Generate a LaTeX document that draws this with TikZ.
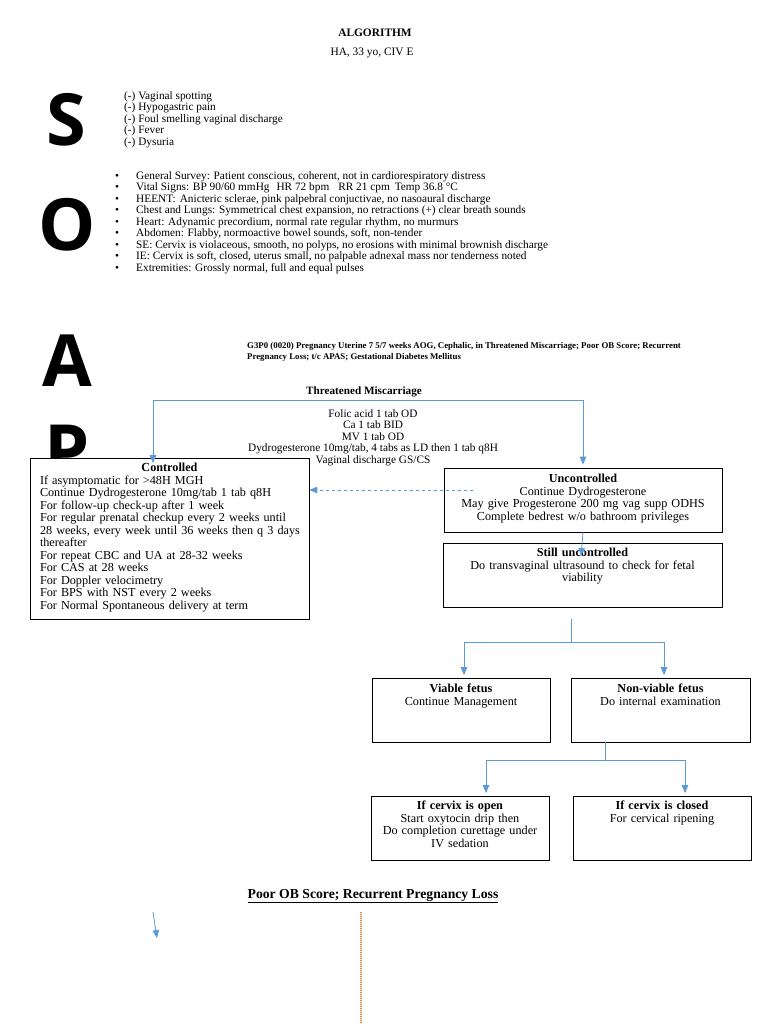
\documentclass[tikz,border=0pt]{standalone}
\usepackage{fontspec}
\setmainfont{Liberation Serif}
\newfontfamily\soapfont{Open Sans}
\usetikzlibrary{arrows,positioning}
\definecolor{arrowblue}{HTML}{5B9BD5}
\definecolor{dotorange}{HTML}{ED7D31}

\begin{document}
\begin{tikzpicture}[x=1pt,y=-1pt,font=\fontsize{11.3}{11.5}\selectfont,
  box/.style={shape=rectangle,draw,fill=white,line width=0.8pt,inner sep=0pt},
  boxtext/.style={anchor=north,text width=#1,text centered,inner sep=0pt,font=\fontsize{12.2}{12.5}\selectfont},
  flow/.style={->,>=triangle 45,draw=arrowblue,line width=0.8pt},
  letter/.style={anchor=base,inner sep=0pt,font=\soapfont\bfseries\fontsize{72}{72}\selectfont}]
\path[use as bounding box,fill=white] (0,0) rectangle (768,1024);
% heading
\node(title)[font=\fontsize{11.4}{12}\selectfont\bfseries] at (375,33){ALGORITHM};
\node(patient)[font=\fontsize{11.4}{12}\selectfont] at (372,53){HA, 33 yo, CIV E};
% SOAP letters
\node(sl)[letter] at (66,146){S};
\node(ol)[letter] at (67,251){O};
\node(al)[letter] at (67,386){A};
\node(pl)[letter] at (67,476){P};
% subjective
\node(subj)[anchor=north west,align=left,inner sep=0pt] at (124,91){(-) Vaginal spotting\\(-) Hypogastric pain\\(-) Foul smelling vaginal discharge\\(-) Fever\\(-) Dysuria};
% objective
\node(obj)[anchor=north west,align=left,inner sep=0pt] at (115,171){%
\makebox[21pt][l]{\textbullet}General Survey: Patient conscious, coherent, not in cardiorespiratory distress\\
\makebox[21pt][l]{\textbullet}Vital Signs: BP 90/60 mmHg\hspace{7pt}HR 72 bpm\hspace{9pt}RR 21 cpm\hspace{5pt}Temp 36.8 °C\\
\makebox[21pt][l]{\textbullet}HEENT:\hspace{4pt}Anicteric sclerae, pink palpebral conjuctivae, no nasoaural discharge\\
\makebox[21pt][l]{\textbullet}Chest and Lungs: Symmetrical chest expansion, no retractions (+) clear breath sounds\\
\makebox[21pt][l]{\textbullet}Heart: Adynamic precordium, normal rate regular rhythm, no murmurs\\
\makebox[21pt][l]{\textbullet}Abdomen: Flabby, normoactive bowel sounds, soft, non-tender\\
\makebox[21pt][l]{\textbullet}SE: Cervix is violaceous, smooth, no polyps, no erosions with minimal brownish discharge\\
\makebox[21pt][l]{\textbullet}IE: Cervix is soft, closed, uterus small, no palpable adnexal mass nor tenderness noted\\
\makebox[21pt][l]{\textbullet}Extremities: Grossly normal, full and equal pulses};
% assessment
\node(assess)[anchor=north west,align=left,inner sep=0pt,font=\fontsize{8.8}{11.5}\selectfont\bfseries] at (247,342){G3P0 (0020) Pregnancy Uterine 7 5/7 weeks AOG, Cephalic, in Threatened Miscarriage; Poor OB Score; Recurrent\\Pregnancy Loss; t/c APAS; Gestational Diabetes Mellitus};
% plan
\node(tm)[font=\fontsize{11.2}{12}\selectfont\bfseries] at (364,392){Threatened Miscarriage};
\node(meds)[anchor=north,align=center,inner sep=0pt] at (373,409){Folic acid 1 tab OD\\Ca 1 tab BID\\MV 1 tab OD\\Dydrogesterone 10mg/tab, 4 tabs as LD then 1 tab q8H\\Vaginal discharge GS/CS};
\node(ctl)[box,minimum width=279pt,minimum height=161pt] at (169.5,538.5){};
\node(ctltxt)[anchor=north,text width=259pt,inner sep=0pt,font=\fontsize{12.2}{12.5}\selectfont] at (169.5,463){{\centering\textbf{Controlled}\par}\noindent
If asymptomatic for >48H MGH\\
Continue Dydrogesterone 10mg/tab 1 tab q8H\\
For follow-up check-up after 1 week\\
\makebox[259pt][s]{For regular prenatal checkup every 2 weeks until}\\
\makebox[259pt][s]{28 weeks, every week until 36 weeks then q 3 days}\\
thereafter\\
For repeat CBC and UA at 28-32 weeks\\
For CAS at 28 weeks\\
For Doppler velocimetry\\
For BPS with NST every 2 weeks\\
For Normal Spontaneous delivery at term};
\node(unc)[box,minimum width=278pt,minimum height=64pt] at (583,500){};
\node(unctxt)[boxtext=270pt] at (583,474){\textbf{Uncontrolled}\\Continue Dydrogesterone\\May give Progesterone 200 mg vag supp ODHS\\Complete bedrest w/o bathroom privileges};
\node(still)[box,minimum width=279pt,minimum height=64pt] at (582.5,575){};
\node(stilltxt)[boxtext=264pt] at (582.5,548){\textbf{Still uncontrolled}\\Do transvaginal ultrasound to check for fetal\\viability};
\node(via)[box,minimum width=178pt,minimum height=64pt] at (461,710){};
\node(viatxt)[boxtext=170pt] at (461,684){\textbf{Viable fetus}\\Continue Management};
\node(non)[box,minimum width=179pt,minimum height=64pt] at (660.5,710){};
\node(nontxt)[boxtext=170pt] at (660.5,684){\textbf{Non-viable fetus}\\Do internal examination};
\node(open)[box,minimum width=178pt,minimum height=64pt] at (460,828){};
\node(opentxt)[boxtext=170pt] at (460,801){\textbf{If cervix is open}\\Start oxytocin drip then\\Do completion curettage under\\IV sedation};
\node(closed)[box,minimum width=178pt,minimum height=64pt] at (662,828){};
\node(closedtxt)[boxtext=170pt] at (662,801){\textbf{If cervix is closed}\\For cervical ripening};
% connectors
\coordinate(split) at (368,400);
\coordinate(ctlin) at (153,463);
\draw[flow] (split) -| (ctlin);
\draw[flow] (split) -| ([yshift=3pt]unc.north);
\coordinate(dashstart) at (473,490);
\draw[flow,dashed] (dashstart) -- (ctl.east |- dashstart);
\coordinate(stillin) at (581,556);
\draw[flow] (unc.south) -- (stillin);
\coordinate(fork) at (571,619);
\coordinate(forkbar) at (571,642);
\coordinate(viain) at (464,675);
\coordinate(nonin) at (664,675);
\draw[flow] (fork) -- (forkbar) -| (viain);
\draw[flow] (forkbar) -| (nonin);
\coordinate(cervbar) at (605,760);
\coordinate(openin) at (486,793);
\coordinate(closedin) at (685,793);
\draw[flow] (non.south -| cervbar) -- (cervbar) -| (openin);
\draw[flow] (cervbar) -| (closedin);
% poor OB score
\node(pob)[font=\fontsize{13.7}{15}\selectfont\bfseries] at (373,896){\underline{Poor OB Score; Recurrent Pregnancy Loss}};
\coordinate(stray) at (153,912);
\coordinate(strayend) at (157,938);
\draw[flow] (stray) -- (strayend);
\coordinate(dottop) at (361,912);
\coordinate(dotbot) at (361,1024);
\draw[dotorange,dash pattern=on 1pt off 1pt,line width=1.2pt] (dottop) -- (dotbot);
\end{tikzpicture}
\end{document}
